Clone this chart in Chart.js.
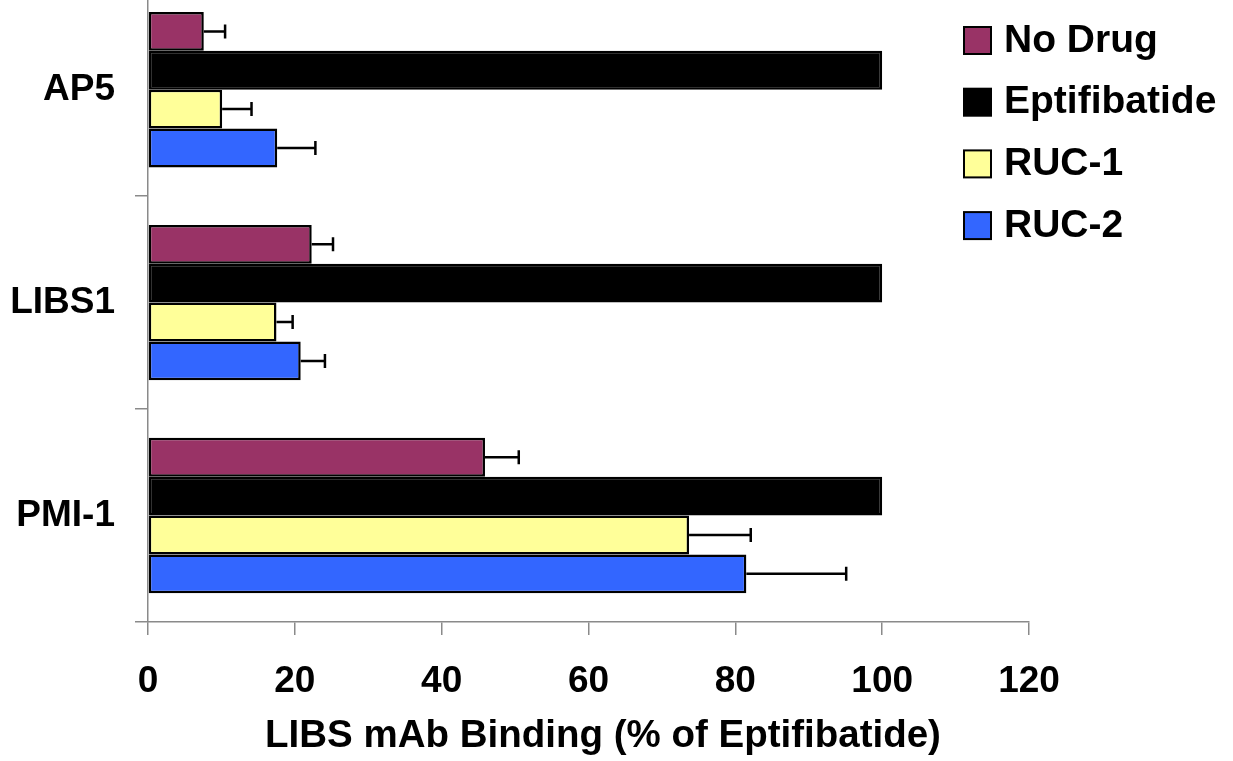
<!DOCTYPE html>
<html>
<head>
<meta charset="utf-8">
<script src="https://cdn.jsdelivr.net/npm/chart.js@4/dist/chart.umd.min.js"></script>
<style>
  html, body { margin: 0; padding: 0; background: #fff; overflow: hidden; width: 1233px; height: 761px; }
  #wrap { position: absolute; left: 0; top: -59px; width: 1233px; height: 820px; }
</style>
</head>
<body>
<div id="wrap"><canvas id="c" width="1233" height="820"></canvas></div>
<script>
// Antibody epitopes (rows) and treatment groups (bars)
const categories = ['AP5', 'LIBS1', 'PMI-1'];
const seriesNames = ['No Drug', 'Eptifibatide', 'RUC-1', 'RUC-2'];

// Mean binding, % of eptifibatide
const noDrug       = [7.6, 22.3, 45.9];
const eptifibatide = [100, 100, 100];
const ruc1         = [10.1, 17.5, 73.7];
const ruc2         = [17.6, 20.8, 81.5];

// Upper error (SEM), same units
const noDrugErr       = [2.9, 2.9, 4.6];
const eptifibatideErr = [0, 0, 0];
const ruc1Err         = [4.0, 2.2, 8.4];
const ruc2Err         = [5.2, 3.3, 13.6];

const xTicks = [0, 20, 40, 60, 80, 100, 120];
const xTitle = 'LIBS mAb Binding (% of Eptifibatide)';

const seriesColors = ['#993366', '#000000', '#FFFF99', '#3366FF'];
const FONT = "'Liberation Sans', Arial, Helvetica, sans-serif";
const OFFSET_Y = 59; // canvas sits this far above the page top

const datasets = [noDrug, eptifibatide, ruc1, ruc2].map((vals, i) => ({
  label: seriesNames[i],
  data: vals,
  errorPlus: [noDrugErr, eptifibatideErr, ruc1Err, ruc2Err][i],
  backgroundColor: seriesColors[i],
  borderColor: '#000',
  borderWidth: 2.5,
  borderSkipped: false,
  barPercentage: 1.0,
  categoryPercentage: 0.73
}));

// One-sided error bars with end caps
const errorBars = {
  id: 'errorBars',
  afterDatasetsDraw(chart) {
    const ctx = chart.ctx;
    const xs = chart.scales.x;
    ctx.save();
    ctx.strokeStyle = '#000';
    ctx.lineWidth = 2.5;
    chart.data.datasets.forEach((ds, di) => {
      const meta = chart.getDatasetMeta(di);
      meta.data.forEach((bar, j) => {
        const err = ds.errorPlus[j];
        if (!err) return;
        const x0 = xs.getPixelForValue(ds.data[j]);
        const x1 = xs.getPixelForValue(ds.data[j] + err);
        const y = bar.y;
        ctx.beginPath();
        ctx.moveTo(x0, y);
        ctx.lineTo(x1, y);
        ctx.moveTo(x1, y - 7);
        ctx.lineTo(x1, y + 7);
        ctx.stroke();
      });
    });
    ctx.restore();
  }
};

// Legend at the upper right and the x-axis title
const sideLegend = {
  id: 'sideLegend',
  afterDraw(chart) {
    const ctx = chart.ctx;
    ctx.save();
    ctx.font = 'bold 39px ' + FONT;
    ctx.textBaseline = 'middle';
    ctx.textAlign = 'left';
    chart.data.datasets.forEach((ds, i) => {
      const cy = OFFSET_Y + 40 + i * 61.7;
      ctx.fillStyle = ds.backgroundColor;
      ctx.fillRect(964, cy - 13, 27, 27);
      ctx.strokeStyle = '#000';
      ctx.lineWidth = 2;
      ctx.strokeRect(964, cy - 13, 27, 27);
      ctx.fillStyle = '#000';
      ctx.fillText(ds.label, 1004, cy + 1);
    });

    ctx.font = 'bold 38.5px ' + FONT;
    ctx.textAlign = 'center';
    ctx.textBaseline = 'alphabetic';
    ctx.fillText(xTitle, 603, OFFSET_Y + 747);
    ctx.restore();
  }
};

new Chart(document.getElementById('c'), {
  type: 'bar',
  data: { labels: categories, datasets },
  options: {
    indexAxis: 'y',
    responsive: false,
    animation: false,
    devicePixelRatio: 1,
    layout: { padding: { left: 0, right: 204, top: 0, bottom: 0 } },
    plugins: {
      legend: { display: false },
      tooltip: { enabled: false }
    },
    scales: {
      x: {
        min: 0,
        max: 120,
        afterBuildTicks(scale) { scale.ticks = xTicks.map(v => ({ value: v })); },
        afterFit(scale) { scale.height = 139; },
        grid: { display: true, drawOnChartArea: false, drawTicks: true, tickLength: 13, color: '#8a8a8a', lineWidth: 1.5 },
        border: { display: true, color: '#8a8a8a', width: 1.5 },
        ticks: { color: '#000', padding: 25, font: { family: FONT, size: 37, weight: 'bold' } },
        title: { display: false }
      },
      y: {
        afterFit(scale) { scale.width = 148; },
        grid: { display: true, drawOnChartArea: false, drawTicks: true, tickLength: 13, color: '#8a8a8a', lineWidth: 1.5, offset: true },
        border: { display: true, color: '#8a8a8a', width: 1.5 },
        ticks: { color: '#000', padding: 20, font: { family: FONT, size: 37, weight: 'bold' } }
      }
    }
  },
  plugins: [errorBars, sideLegend]
});
</script>
</body>
</html>
